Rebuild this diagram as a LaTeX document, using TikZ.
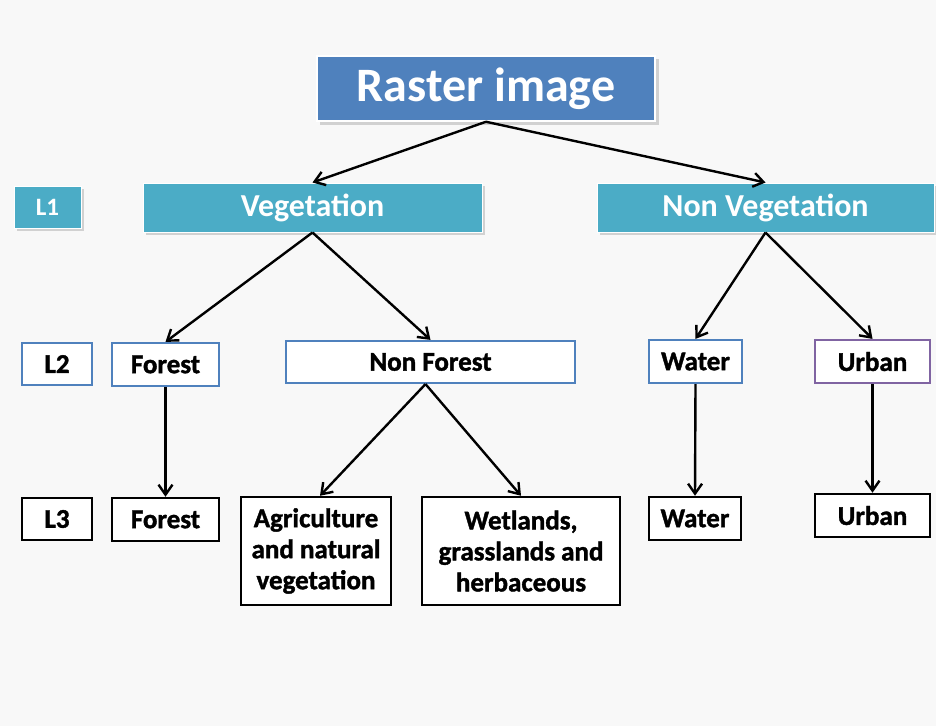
\documentclass[tikz,border=0pt]{standalone}
\usepackage{fontspec}
\setmainfont{Carlito}
\newfontfamily\heavyfont[FakeBold=1.4]{Carlito Bold}
\usetikzlibrary{arrows.meta}
\definecolor{bgc}{HTML}{F8F8F8}
\definecolor{rasterblue}{HTML}{4F81BD}
\definecolor{aqua}{HTML}{4BACC6}
\definecolor{lineblue}{HTML}{4F81BD}
\definecolor{linepurple}{HTML}{8064A2}
\tikzset{
  box/.style={rectangle, inner sep=0pt, align=center},
  topbox/.style={box, fill=rasterblue, draw=white, line width=1.5pt, text=white},
  lvlone/.style={box, fill=aqua, draw=white, line width=1pt, text=white},
  lvltwo/.style={box, fill=white, draw=lineblue, line width=2.2pt, text=black,
    font=\heavyfont\fontsize{27}{31}\selectfont},
  lvlthree/.style={box, fill=white, draw=black, line width=2.5pt, text=black,
    font=\heavyfont\fontsize{27}{31}\selectfont},
  shadow/.style={fill=black!18},
  arr/.style={-{Straight Barb[length=10pt,width=14pt,line width=2.4pt]}, line width=2.4pt, black},
}
\begin{document}
\begin{tikzpicture}[x=1pt, y=-1pt]
\useasboundingbox (0,0) rectangle (936,726);
\fill[bgc] (0,0) rectangle (936,726);

% soft shadows under the filled boxes
\fill[shadow] (320,59) rectangle (659,125);
\fill[shadow] (17,189) rectangle (84,231);
\fill[shadow] (146,186) rectangle (485,235);
\fill[shadow] (600,186) rectangle (936,235);

% top level
\node[topbox, minimum width=338pt, minimum height=65pt, font=\bfseries\fontsize{48}{52}\selectfont]
  (raster) at (486,88.5) {\raisebox{-3pt}{Raster image}};

% level 1
\node[lvlone, minimum width=67pt, minimum height=42pt, font=\bfseries\fontsize{25}{28}\selectfont]
  (l1) at (47.5,207) {L1};
\node[lvlone, minimum width=339pt, minimum height=49pt, font=\bfseries\fontsize{32}{36}\selectfont]
  (veg) at (312.5,207.5) {\raisebox{-2pt}{Vegetation}};
\node[lvlone, minimum width=337pt, minimum height=49pt, font=\bfseries\fontsize{32}{36}\selectfont]
  (nonveg) at (765.5,207.5) {\raisebox{-2pt}{Non Vegetation}};

% level 2
\node[lvltwo, minimum width=70pt, minimum height=42pt] (l2) at (57,364) {L2};
\node[lvltwo, minimum width=107pt, minimum height=43pt] (forest2) at (165.5,364.5) {Forest};
\node[lvltwo, minimum width=289pt, minimum height=42pt] (nonforest) at (430.5,362) {Non Forest};
\node[lvltwo, minimum width=93pt, minimum height=43pt] (water2) at (695.5,361.5) {Water};
\node[lvltwo, draw=linepurple, minimum width=115pt, minimum height=43pt] (urban2) at (872.5,361.5) {Urban};

% level 3
\node[lvlthree, minimum width=70pt, minimum height=42pt] (l3) at (57,519) {L3};
\node[lvlthree, minimum width=107pt, minimum height=43pt] (forest3) at (165.5,519.5) {Forest};
\node[lvlthree, minimum width=150pt, minimum height=108pt] (agri) at (316,551) {Agriculture\\and natural\\vegetation};
\node[lvlthree, minimum width=198pt, minimum height=108pt] (wet) at (521,551) {Wetlands,\\grasslands and\\herbaceous};
\node[lvlthree, minimum width=92pt, minimum height=43pt] (water3) at (695,518.5) {Water};
\node[lvlthree, minimum width=115pt, minimum height=43pt] (urban3) at (872.5,515.5) {Urban};

% connectors
\draw[arr] (raster.south) -- (veg.north);
\draw[arr] (raster.south) -- (nonveg.north);
\draw[arr] (veg.south) -- (forest2.north);
\draw[arr] (veg.south) -- (nonforest.north);
\draw[arr] (nonveg.south) -- (water2.north);
\draw[arr] (nonveg.south) -- (urban2.north);
\draw[arr] (forest2.south) -- (forest3.north);
\draw[arr] ([xshift=-5pt]nonforest.south) -- ([xshift=4pt]agri.north);
\draw[arr] ([xshift=-5pt]nonforest.south) -- (wet.north);
\draw[arr] (water2.south) -- (water3.north);
\draw[arr] (urban2.south) -- (urban3.north);
\end{tikzpicture}
\end{document}
